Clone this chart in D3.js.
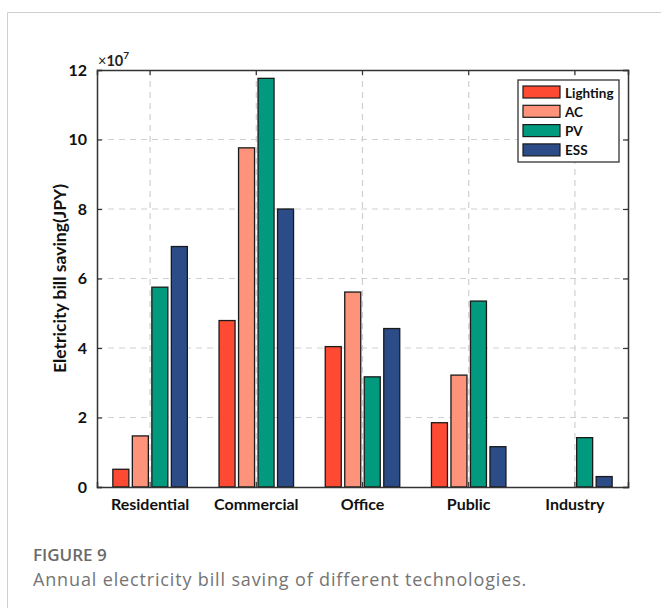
<!DOCTYPE html>
<html>
<head>
<meta charset="utf-8">
<script src="https://cdn.jsdelivr.net/npm/d3@7"></script>
<style>
  html, body { margin: 0; padding: 0; background: #fff; }
  svg { display: block; }
</style>
</head>
<body>
<svg id="chart" width="661" height="608"></svg>
<script>
// Sectors on the x axis
const categories = ["Residential", "Commercial", "Office", "Public", "Industry"];
// Technologies (one bar per sector each)
const seriesNames = ["Lighting", "AC", "PV", "ESS"];
// Annual saving per technology, in units of 1e7 JPY
const lighting = [0.51, 4.79, 4.04, 1.85, 0];
const ac       = [1.47, 9.76, 5.61, 3.22, 0];
const pv       = [5.75, 11.76, 3.17, 5.35, 1.42];
const ess      = [6.92, 8.00, 4.56, 1.16, 0.30];
const yTicks = [0, 2, 4, 6, 8, 10, 12];
const colors = ["#ff4a33", "#fd937b", "#019a7e", "#2c4c88"];

const series = [lighting, ac, pv, ess];

const svg = d3.select("#chart");
const font = "Lato, 'Open Sans', sans-serif";
const capFont = "'Open Sans', sans-serif";

// card frame
svg.append("line").attr("x1", 7.5).attr("x2", 661).attr("y1", 12.5).attr("y2", 12.5)
  .attr("stroke", "#cfcfcf").attr("stroke-width", 1);
svg.append("line").attr("x1", 7.5).attr("x2", 7.5).attr("y1", 12.5).attr("y2", 608)
  .attr("stroke", "#cfcfcf").attr("stroke-width", 1);

const L = 97, R = 628, T = 70, B = 487;

const x = d3.scaleBand().domain(categories).range([L, R]).padding(0);
const y = d3.scaleLinear().domain([0, 12]).range([B, T]);
const barW = 16, step = 19.5;

// grid
const g = svg.append("g");
g.selectAll("line.gy").data(yTicks.filter(t => t > 0 && t < 12)).join("line")
  .attr("x1", L).attr("x2", R).attr("y1", d => y(d)).attr("y2", d => y(d))
  .attr("stroke", "#d0d0d0").attr("stroke-width", 1.2).attr("stroke-dasharray", "6,5");
g.selectAll("line.gx").data(categories).join("line")
  .attr("x1", d => x(d) + x.bandwidth() / 2).attr("x2", d => x(d) + x.bandwidth() / 2)
  .attr("y1", T).attr("y2", B)
  .attr("stroke", "#d0d0d0").attr("stroke-width", 1.2).attr("stroke-dasharray", "6,5");

// bars
series.forEach((vals, si) => {
  svg.append("g").selectAll("rect").data(vals).join("rect")
    .attr("x", (d, i) => x(categories[i]) + x.bandwidth() / 2 + (si - 1.5) * step - barW / 2)
    .attr("y", d => y(d))
    .attr("width", barW)
    .attr("height", d => B - y(d))
    .attr("fill", colors[si])
    .attr("stroke", "#1a1a1a").attr("stroke-width", 1.3);
});

// axes box
const axCol = "#333";
const yAxisL = d3.axisLeft(y).tickValues(yTicks).tickSize(-5).tickPadding(10).tickFormat(d3.format("d"));
const yAxisR = d3.axisRight(y).tickValues(yTicks).tickSize(-5).tickFormat("");
const xAxisB = d3.axisBottom(x).tickSize(-5).tickPadding(12);
const xAxisT = d3.axisTop(x).tickSize(-5).tickFormat("");

function styleAxis(sel, size) {
  sel.select(".domain").attr("stroke", axCol).attr("stroke-width", 1.5);
  sel.selectAll(".tick line").attr("stroke", axCol).attr("stroke-width", 1.2);
  sel.selectAll("text").attr("fill", "#111").attr("font-family", font)
    .attr("font-weight", "bold").attr("font-size", size);
}
svg.append("g").attr("transform", `translate(${L},0)`).call(yAxisL).call(styleAxis, 16);
svg.append("g").attr("transform", `translate(${R},0)`).call(yAxisR).call(styleAxis, 16);
svg.append("g").attr("transform", `translate(0,${B})`).call(xAxisB).call(styleAxis, 16);
svg.append("g").attr("transform", `translate(0,${T})`).call(xAxisT).call(styleAxis, 15);

// exponent label
const expo = svg.append("text").attr("x", 98).attr("y", 66)
  .attr("font-family", font).attr("font-weight", "bold").attr("font-size", 14.5).attr("fill", "#222");
expo.append("tspan").attr("font-weight", "normal").text("×");
expo.append("tspan").text("10");
expo.append("tspan").attr("dy", -7).attr("font-size", 10).text("7");

// y title
svg.append("text")
  .attr("transform", `translate(66,${(T + B) / 2}) rotate(-90)`)
  .attr("text-anchor", "middle")
  .attr("font-family", font).attr("font-weight", "bold").attr("font-size", 17.5)
  .attr("fill", "#111")
  .text("Eletricity bill saving(JPY)");

// legend
const lg = svg.append("g").attr("transform", "translate(518,80)");
lg.append("rect").attr("width", 101).attr("height", 82)
  .attr("fill", "#fff").attr("stroke", axCol).attr("stroke-width", 1.3);
seriesNames.forEach((n, i) => {
  const row = lg.append("g").attr("transform", `translate(5,${6 + i * 19.3})`);
  row.append("rect").attr("width", 37).attr("height", 12)
    .attr("fill", colors[i]).attr("stroke", "#1a1a1a").attr("stroke-width", 1.2);
  row.append("text").attr("x", 42).attr("y", 11.5)
    .attr("font-family", font).attr("font-weight", "bold").attr("font-size", 13.5)
    .attr("fill", "#111").text(n);
});

// caption
svg.append("text").attr("x", 33).attr("y", 561)
  .attr("font-family", capFont).attr("font-weight", 600).attr("font-size", 17).attr("fill", "#6a6a6a")
  .text("FIGURE 9");
svg.append("text").attr("x", 33).attr("y", 586)
  .attr("font-family", capFont).attr("font-size", 18).attr("letter-spacing", 0.85).attr("fill", "#747474")
  .text("Annual electricity bill saving of different technologies.");
</script>
</body>
</html>
